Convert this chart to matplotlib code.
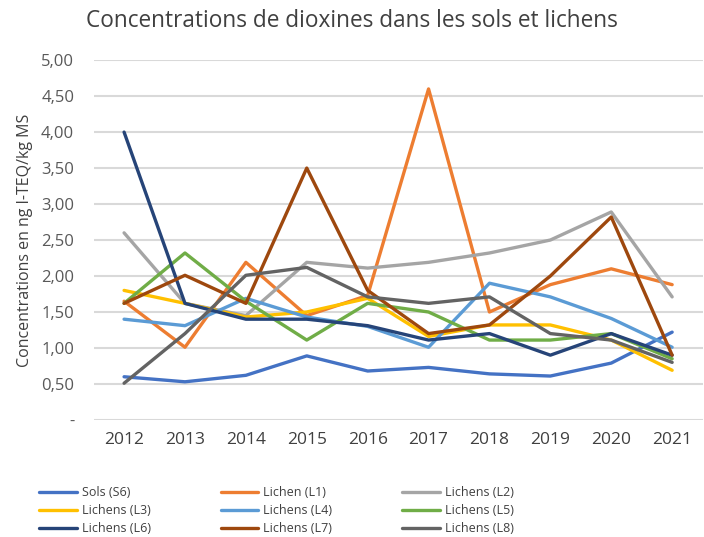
import matplotlib
matplotlib.use("Agg")
import matplotlib.pyplot as plt
from matplotlib.ticker import FuncFormatter

plt.rcParams['font.family'] = ['Open Sans', 'DejaVu Sans']

years = ['2012', '2013', '2014', '2015', '2016', '2017', '2018', '2019', '2020', '2021']

sols_s6 = [0.60, 0.53, 0.62, 0.89, 0.68, 0.73, 0.64, 0.61, 0.79, 1.22]
lichen_l1 = [1.65, 1.01, 2.19, 1.45, 1.73, 4.60, 1.50, 1.88, 2.10, 1.88]
lichens_l2 = [2.60, 1.62, 1.45, 2.19, 2.11, 2.19, 2.32, 2.50, 2.89, 1.71]
lichens_l3 = [1.80, 1.62, 1.43, 1.50, 1.69, 1.16, 1.32, 1.32, 1.11, 0.69]
lichens_l4 = [1.40, 1.31, 1.69, 1.43, 1.30, 1.01, 1.90, 1.71, 1.41, 1.01]
lichens_l5 = [1.62, 2.32, 1.65, 1.11, 1.62, 1.50, 1.11, 1.11, 1.20, 0.85]
lichens_l6 = [4.00, 1.62, 1.40, 1.40, 1.31, 1.11, 1.20, 0.90, 1.20, 0.90]
lichens_l7 = [1.62, 2.01, 1.62, 3.50, 1.80, 1.20, 1.32, 2.00, 2.82, 0.90]
lichens_l8 = [0.51, 1.20, 2.01, 2.12, 1.71, 1.62, 1.71, 1.20, 1.11, 0.80]

series = [
    ('Sols (S6)', sols_s6, '#4472C4'),
    ('Lichen (L1)', lichen_l1, '#ED7D31'),
    ('Lichens (L2)', lichens_l2, '#A5A5A5'),
    ('Lichens (L3)', lichens_l3, '#FFC000'),
    ('Lichens (L4)', lichens_l4, '#5B9BD5'),
    ('Lichens (L5)', lichens_l5, '#70AD47'),
    ('Lichens (L6)', lichens_l6, '#264478'),
    ('Lichens (L7)', lichens_l7, '#9E480E'),
    ('Lichens (L8)', lichens_l8, '#636363'),
]

fig = plt.figure(figsize=(7.04, 5.37), dpi=100)
ax = fig.add_axes([0.133, 0.218, 0.865, 0.670])

x = range(len(years))
lines = []
for name, vals, col in series:
    ln, = ax.plot(x, vals, color=col, lw=2.4, label=name, solid_capstyle='round')
    lines.append(ln)

ax.set_xlim(-0.5, len(years) - 0.5)
ax.set_ylim(0, 5)
ax.set_yticks([i * 0.5 for i in range(11)])
ax.yaxis.set_major_formatter(FuncFormatter(
    lambda v, p: '-' if v == 0 else f"{v:.2f}".replace('.', ',')))
ax.set_xticks(list(x))
ax.set_xticklabels(years)

ax.grid(axis='y', color='#d9d9d9', lw=1.5)
ax.set_axisbelow(True)
for s in ax.spines.values():
    s.set_visible(False)
ax.tick_params(axis='both', length=0, colors='#595959', labelsize=12)
ax.tick_params(axis='x', pad=9, labelcolor='#404040', labelsize=12.5)
ax.tick_params(axis='y', pad=14)

ax.set_ylabel('Concentrations en ng I-TEQ/kg MS', color='#404040', fontsize=11.5, labelpad=6)
fig.text(0.5, 0.96, 'Concentrations de dioxines dans les sols et lichens',
         ha='center', va='center', fontsize=16.3, color='#404040')

# legend is filled row by row in the reference, matplotlib fills columns
ncol = 3
order = [r * ncol + c for c in range(ncol) for r in range(3)]
fig.legend([lines[i] for i in order], [series[i][0] for i in order],
           loc='upper left', bbox_to_anchor=(0.04, 0.116), ncol=ncol, frameon=False,
           fontsize=9, handlelength=3.0, handletextpad=0.4, columnspacing=5.6,
           labelspacing=0.4, labelcolor='#404040')

fig.savefig('out.png', dpi=100)
